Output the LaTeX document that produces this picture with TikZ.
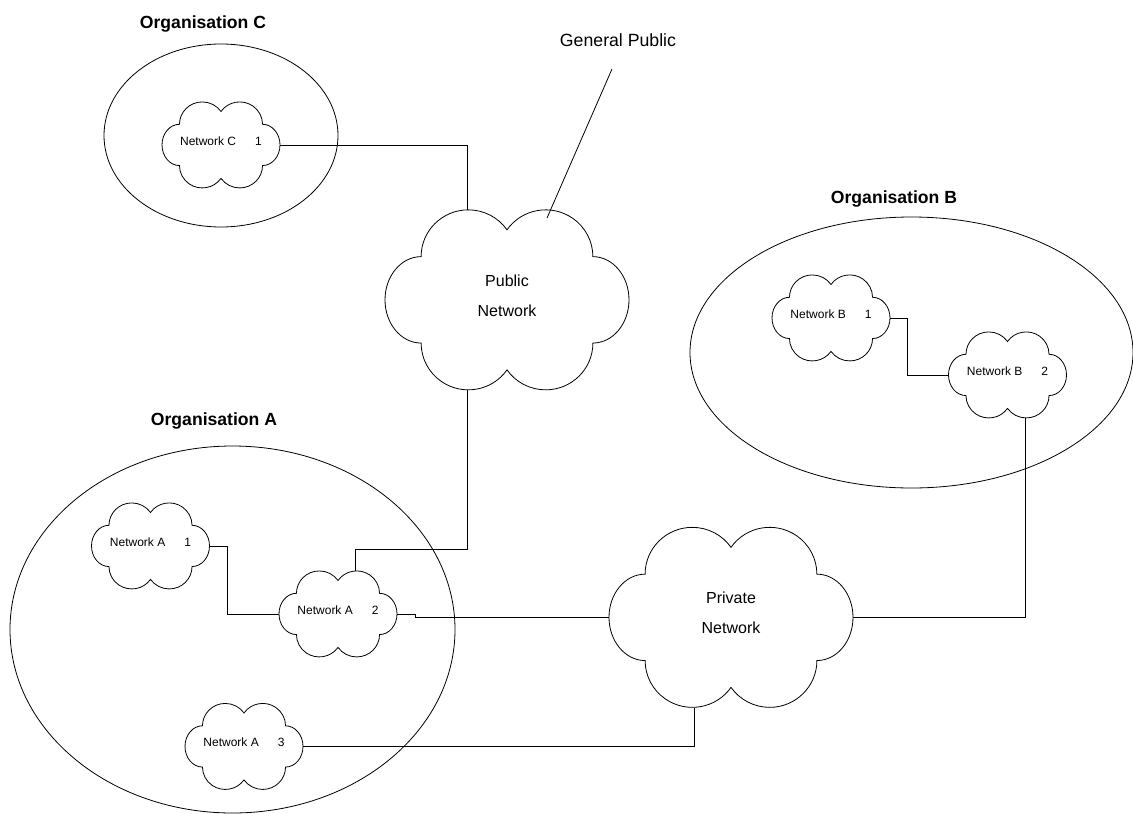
\documentclass[tikz,border=0pt]{standalone}
\usepackage{fontspec}
\setmainfont{Liberation Sans}
\usetikzlibrary{shapes.geometric,calc}

\tikzset{
  netsmall/.style={rectangle, minimum width=118pt, minimum height=86pt, inner sep=0pt,
    text depth=8pt, font=\fontsize{12}{14}\selectfont},
  netbig/.style={rectangle, minimum width=244pt, minimum height=180pt, inner sep=0pt,
    align=center, text depth=9pt, font=\fontsize{16}{30}\selectfont},
  orgzone/.style={ellipse, draw, line width=0.8pt, inner sep=0pt},
  orgtitle/.style={font=\fontsize{17.6}{20}\selectfont\bfseries, text depth=0pt},
  link/.style={line width=0.8pt}
}

% cloud outline round a network node: name, half width, half height
\newcommand{\netpuff}[3]{%
  \draw[link, shift={(#1.center)}, x=#2pt, y=#3pt]
    (0,.78) arc[start angle=145, end angle=0, x radius=.387, y radius=.52]
    arc[start angle=90, end angle=-90, x radius=.296, y radius=.48]
    arc[start angle=0, end angle=-145, x radius=.387, y radius=.52]
    arc[start angle=-35, end angle=-180, x radius=.387, y radius=.52]
    arc[start angle=-90, end angle=-270, x radius=.296, y radius=.48]
    arc[start angle=180, end angle=35, x radius=.387, y radius=.52] -- cycle;}

\begin{document}
\begin{tikzpicture}[x=1pt, y=-1pt]
  \useasboundingbox (0,0) rectangle (1133,814);

  % organisations
  \node[orgzone, minimum width=234pt, minimum height=183pt] (orgC) at (221,135.5) {};
  \node[orgzone, minimum width=443pt, minimum height=271pt] (orgB) at (911.5,352.5) {};
  \node[orgzone, minimum width=445pt, minimum height=367pt] (orgA) at (232.5,629.5) {};
  \node[orgtitle] (orgCname) at (203,22) {Organisation C};
  \node[orgtitle] (orgBname) at (894,197) {Organisation B};
  \node[orgtitle] (orgAname) at (214,419) {Organisation A};

  % networks
  \node[netbig] (pub) at (507,300) {Public\\Network};
  \node[netbig] (priv) at (731,617.5) {Private\\Network};
  \node[netsmall] (c1) at (221,145) {Network C\hspace{19pt}1};
  \node[netsmall] (b1) at (831,318) {Network B\hspace{19pt}1};
  \node[netsmall] (b2) at (1007.5,375) {Network B\hspace{19pt}2};
  \node[netsmall] (a1) at (150.5,546) {Network A\hspace{19pt}1};
  \node[netsmall] (a2) at (338,614) {Network A\hspace{19pt}2};
  \node[netsmall] (a3) at (244,746.5) {Network A\hspace{19pt}3};
  \netpuff{pub}{122}{90}
  \netpuff{priv}{122}{90}
  \netpuff{c1}{59}{43}
  \netpuff{b1}{59}{43}
  \netpuff{b2}{59}{43}
  \netpuff{a1}{59}{43}
  \netpuff{a2}{59}{43}
  \netpuff{a3}{59}{43}

  \node[font=\fontsize{17.7}{20}\selectfont] (gp) at (618,40) {General Public};
  \coordinate (gptip) at (547,218);

  % links
  \draw[link] (c1.east) -| ($(pub.north west)!.34!(pub.north east)$);
  \draw[link] ($(pub.south west)!.34!(pub.south east)$) -- ++(0,159)
    -| ($(a2.north west)!.65!(a2.north east)$);
  \draw[link] (a1.east) -- ++(18,0) |- (a2.west);
  \draw[link] (a2.east) -- ++(18,0) |- (priv.west);
  \draw[link] (a3.east) -| ($(priv.south west)!.35!(priv.south east)$);
  \draw[link] (priv.east) -| ($(b2.south west)!.65!(b2.south east)$);
  \draw[link] (b1.east) -- ++(17,0) |- (b2.west);
  \draw[link] ([xshift=-6pt,yshift=-19pt]gp.south) -- (gptip);
\end{tikzpicture}
\end{document}
